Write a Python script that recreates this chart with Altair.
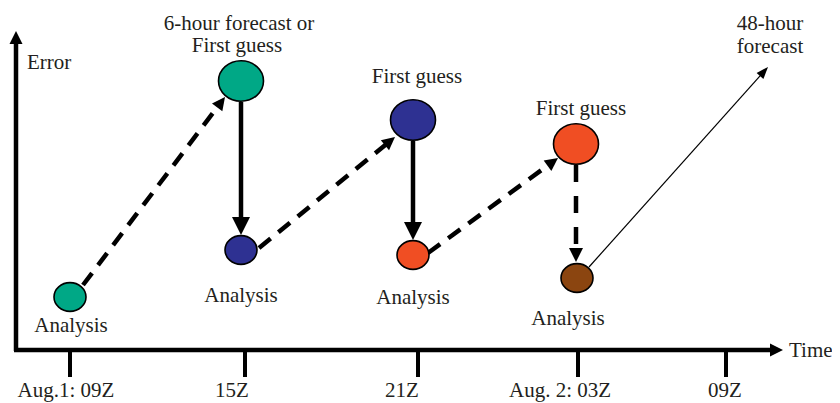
import math
import altair as alt
import pandas as pd

# ---- diagram values (in diagram units) ----
# circles: analysis / first-guess states of each assimilation cycle
circle_x = [70, 241, 241, 413, 413, 576, 577]
circle_y = [297, 81, 250, 120, 255, 144, 278]
circle_kind = ["Analysis", "First guess", "Analysis", "First guess",
               "Analysis", "First guess", "Analysis"]
circle_cycle = ["09Z", "09Z", "15Z", "15Z", "21Z", "21Z", "03Z"]

# arrows: start -> tip
arrow_x0 = [83, 241, 259, 413, 428, 576, 589]
arrow_y0 = [285, 102, 248, 141, 253, 165, 267]
arrow_x1 = [225, 241, 395, 413, 558, 576, 768]
arrow_y1 = [97, 235, 137, 240, 158, 262, 67]
arrow_kind = ["forecast", "update", "forecast", "update", "forecast",
              "update-dashed", "long forecast"]

# axes
axis_x0 = [16, 14]
axis_y0 = [351, 350]
axis_x1 = [16, 783]
axis_y1 = [31, 350]

# time ticks
tick_x = [70, 245, 418, 578, 726]
tick_label_x = [66, 232, 402, 560, 725]
tick_labels = ["Aug.1: 09Z", "15Z", "21Z", "Aug. 2: 03Z", "09Z"]

# annotations
ann_text = ["6-hour forecast or", "First guess", "First guess", "First guess",
            "48-hour", "forecast", "Analysis", "Analysis", "Analysis", "Analysis"]
ann_x = [239, 237, 417, 581, 770, 770, 71, 241, 413, 568]
ann_y = [30, 52, 83, 115, 30, 53, 332, 302, 304, 325]
left_text = ["Error", "Time"]
left_x = [27, 789]
left_y = [69, 357]

# ---- build tables ----
FONT = "Liberation Serif"
TXT = "#231f20"

xs = alt.Scale(domain=[8, 832], nice=False, zero=False)
ys = alt.Scale(domain=[8, 403], nice=False, zero=False, reverse=True)


def X(f="x"):
    return alt.X(f"{f}:Q", scale=xs, axis=None)


def Y(f="y"):
    return alt.Y(f"{f}:Q", scale=ys, axis=None)


head_len = {"forecast": 13, "update": 18, "update-dashed": 14, "long forecast": 12, "axis": 13}

seg_rows, head_rows = [], []
for x0, y0, x1, y1, k in zip(arrow_x0 + axis_x0, arrow_y0 + axis_y0,
                             arrow_x1 + axis_x1, arrow_y1 + axis_y1,
                             arrow_kind + ["axis", "axis"]):
    dx, dy = x1 - x0, y1 - y0
    n = math.hypot(dx, dy)
    L = head_len[k]
    ang = math.degrees(math.atan2(dx, -dy)) % 360
    seg_rows.append(dict(x=x0, y=y0, x2=x1 - dx / n * L * 0.6,
                         y2=y1 - dy / n * L * 0.6, kind=k))
    head_rows.append(dict(x=x1, y=y1, s=4 * L * L, a=ang, kind=k))
segs = pd.DataFrame(seg_rows)
heads = pd.DataFrame(head_rows)

circles = pd.DataFrame(dict(x=circle_x, y=circle_y, kind=circle_kind, cycle=circle_cycle))
ticks = pd.DataFrame(dict(x=tick_x, y=[350] * 5, y2=[377] * 5))
tlabels = pd.DataFrame(dict(x=tick_label_x, y=[397] * 5, t=tick_labels))
ann = pd.DataFrame(dict(x=ann_x, y=ann_y, t=ann_text))
lann = pd.DataFrame(dict(x=left_x, y=left_y, t=left_text))


def seg_layer(kinds, **mk):
    return alt.Chart(segs).transform_filter(
        alt.FieldOneOfPredicate(field="kind", oneOf=kinds)
    ).mark_rule(color="black", **mk).encode(x=X(), y=Y(), x2="x2:Q", y2="y2:Q")


dashed = seg_layer(["forecast"], strokeWidth=4.5, strokeDash=[15, 10])
dashed_v = seg_layer(["update-dashed"], strokeWidth=4.5, strokeDash=[17, 14])
solid = seg_layer(["update", "axis"], strokeWidth=4.5)
thin = seg_layer(["long forecast"], strokeWidth=1.2)

ticks_l = alt.Chart(ticks).mark_rule(color="black", strokeWidth=4).encode(
    x=X(), y=Y(), y2="y2:Q")

wide_head = "M0,0L-0.5,1L0.5,1Z"
narrow_head = "M0,0L-0.38,1L0.38,1Z"


def head_layer(kinds, shape):
    return alt.Chart(heads).transform_filter(
        alt.FieldOneOfPredicate(field="kind", oneOf=kinds)
    ).mark_point(shape=shape, filled=True, color="black", opacity=1, strokeWidth=0).encode(
        x=X(), y=Y(),
        size=alt.Size("s:Q", scale=None, legend=None),
        angle=alt.Angle("a:Q", scale=None),
    )


heads_w = head_layer(["forecast", "update", "update-dashed", "axis"], wide_head)
heads_n = head_layer(["long forecast"], narrow_head)

ellipse = "M-1,0A1,0.9,0,1,0,1,0A1,0.9,0,1,0,-1,0Z"
circ = alt.Chart(circles).mark_point(
    shape=ellipse, filled=True, opacity=1, stroke="black", strokeWidth=1.6
).encode(
    x=X(), y=Y(),
    color=alt.Color("cycle:N", legend=None,
                    scale=alt.Scale(domain=["09Z", "15Z", "21Z", "03Z"],
                                    range=["#00a886", "#2e3192", "#f04e23", "#8b4510"])),
    size=alt.Size("kind:N", legend=None,
                  scale=alt.Scale(domain=["Analysis", "First guess"], range=[1024, 2025])),
)

txt = alt.Chart(ann).mark_text(font=FONT, fontSize=21, color=TXT, align="center",
                               baseline="alphabetic").encode(x=X(), y=Y(), text="t:N")
ltxt = alt.Chart(lann).mark_text(font=FONT, fontSize=21, color=TXT, align="left",
                                 baseline="alphabetic").encode(x=X(), y=Y(), text="t:N")
ttxt = alt.Chart(tlabels).mark_text(font=FONT, fontSize=21, color=TXT, align="center",
                                    baseline="alphabetic").encode(x=X(), y=Y(), text="t:N")

chart = alt.layer(
    ticks_l, solid, dashed, dashed_v, thin, circ, heads_w, heads_n, txt, ltxt, ttxt
).properties(
    width=824, height=395, padding=0, autosize=alt.AutoSizeParams(type="none"),
    background="white",
).configure_view(stroke=None)

chart.save("out.html", embed_options={"renderer": "svg", "actions": False})
